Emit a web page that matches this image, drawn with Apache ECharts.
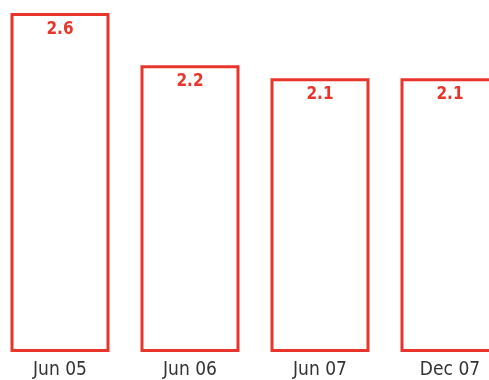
<!DOCTYPE html>
<html><head><meta charset="utf-8">
<style>html,body{margin:0;padding:0;background:#fff}#c{width:489px;height:380px}</style>
<script src="https://cdn.jsdelivr.net/npm/echarts@6/dist/echarts.min.js"></script>
</head><body><div id="c"></div>
<script>
const categories = ['Jun 05', 'Jun 06', 'Jun 07', 'Dec 07'];
const values = [2.6, 2.2, 2.1, 2.1];
const chart = echarts.init(document.getElementById('c'));
chart.setOption({
  animation: false,
  grid: { left: -5, width: 520, top: 0, height: 352, containLabel: false, outerBoundsMode: 'none' },
  xAxis: {
    type: 'category', data: categories,
    axisLine: { show: false }, axisTick: { show: false },
    axisLabel: { color: '#333', fontSize: 19, fontFamily: 'DejaVu Sans Condensed, DejaVu Sans', margin: 9 }
  },
  yAxis: { type: 'value', min: 0, max: 2.7, show: false, splitLine: { show: false } },
  series: [{
    type: 'bar', data: values, barWidth: 99,
    itemStyle: { color: '#fff', borderColor: '#e8352b', borderWidth: 3 },
    label: { show: true, position: 'insideTop', distance: 8, color: '#e8352b', fontSize: 17, fontWeight: 'bold', fontFamily: 'DejaVu Sans Condensed, DejaVu Sans' }
  }]
});
</script></body></html>
